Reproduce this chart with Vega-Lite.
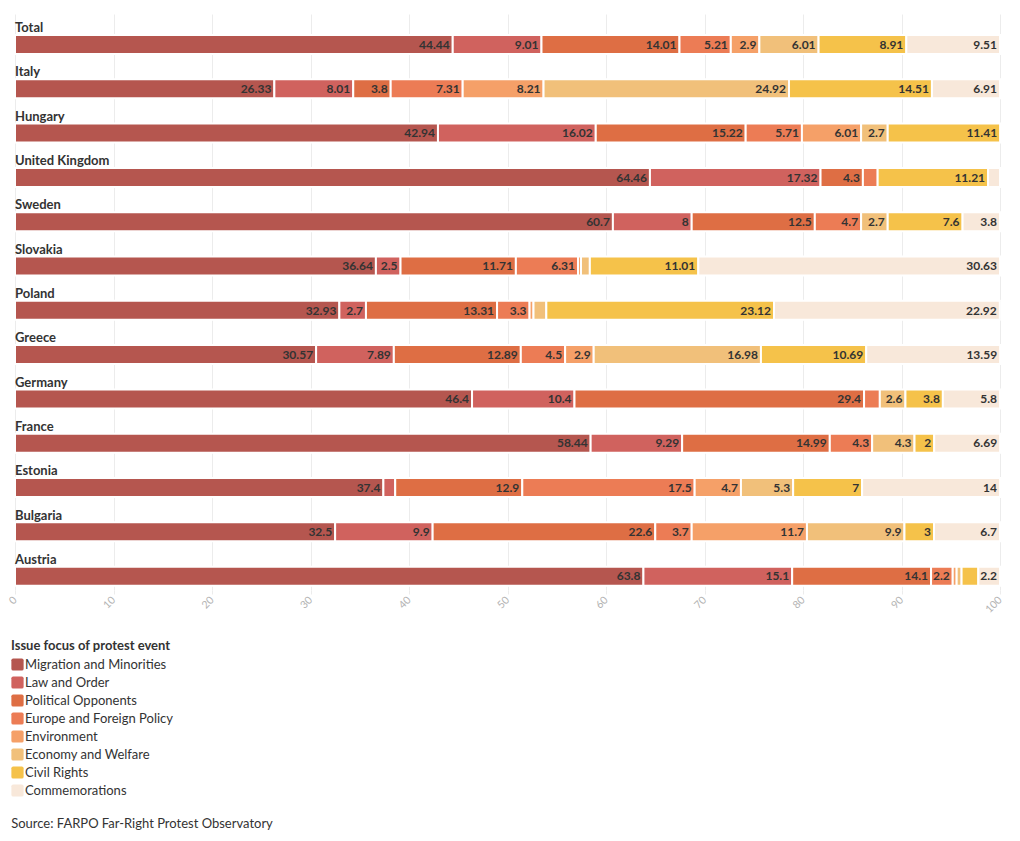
{
  "$schema": "https://vega.github.io/schema/vega-lite/v6.json",
  "width": 985,
  "height": 576,
  "autosize": {"type": "none"},
  "padding": {"left": 15, "top": 14, "right": 20, "bottom": 251},
  "background": "white",
  "config": {"font": "Lato", "view": {"stroke": null}},
  "title": {"text": "Source: FARPO Far-Right Protest Observatory", "orient": "bottom", "anchor": "start", "fontSize": 13, "fontWeight": "normal", "color": "#333", "offset": 20, "dx": 4},
  "datasets": {
    "cats": [
      {"issue": "Migration and Minorities", "rank": 1},
      {"issue": "Law and Order", "rank": 2},
      {"issue": "Political Opponents", "rank": 3},
      {"issue": "Europe and Foreign Policy", "rank": 4},
      {"issue": "Environment", "rank": 5},
      {"issue": "Economy and Welfare", "rank": 6},
      {"issue": "Civil Rights", "rank": 7},
      {"issue": "Commemorations", "rank": 8}
    ]
  },
  "data": {"values": [
    {"country": "Total", "issue": "Migration and Minorities", "value": 44.44},
    {"country": "Total", "issue": "Law and Order", "value": 9.01},
    {"country": "Total", "issue": "Political Opponents", "value": 14.01},
    {"country": "Total", "issue": "Europe and Foreign Policy", "value": 5.21},
    {"country": "Total", "issue": "Environment", "value": 2.9},
    {"country": "Total", "issue": "Economy and Welfare", "value": 6.01},
    {"country": "Total", "issue": "Civil Rights", "value": 8.91},
    {"country": "Total", "issue": "Commemorations", "value": 9.51},
    {"country": "Italy", "issue": "Migration and Minorities", "value": 26.33},
    {"country": "Italy", "issue": "Law and Order", "value": 8.01},
    {"country": "Italy", "issue": "Political Opponents", "value": 3.8},
    {"country": "Italy", "issue": "Europe and Foreign Policy", "value": 7.31},
    {"country": "Italy", "issue": "Environment", "value": 8.21},
    {"country": "Italy", "issue": "Economy and Welfare", "value": 24.92},
    {"country": "Italy", "issue": "Civil Rights", "value": 14.51},
    {"country": "Italy", "issue": "Commemorations", "value": 6.91},
    {"country": "Hungary", "issue": "Migration and Minorities", "value": 42.94},
    {"country": "Hungary", "issue": "Law and Order", "value": 16.02},
    {"country": "Hungary", "issue": "Political Opponents", "value": 15.22},
    {"country": "Hungary", "issue": "Europe and Foreign Policy", "value": 5.71},
    {"country": "Hungary", "issue": "Environment", "value": 6.01},
    {"country": "Hungary", "issue": "Economy and Welfare", "value": 2.7},
    {"country": "Hungary", "issue": "Civil Rights", "value": 11.41},
    {"country": "United Kingdom", "issue": "Migration and Minorities", "value": 64.46},
    {"country": "United Kingdom", "issue": "Law and Order", "value": 17.32},
    {"country": "United Kingdom", "issue": "Political Opponents", "value": 4.3},
    {"country": "United Kingdom", "issue": "Europe and Foreign Policy", "value": 1.5},
    {"country": "United Kingdom", "issue": "Civil Rights", "value": 11.21},
    {"country": "United Kingdom", "issue": "Commemorations", "value": 1.21},
    {"country": "Sweden", "issue": "Migration and Minorities", "value": 60.7},
    {"country": "Sweden", "issue": "Law and Order", "value": 8},
    {"country": "Sweden", "issue": "Political Opponents", "value": 12.5},
    {"country": "Sweden", "issue": "Europe and Foreign Policy", "value": 4.7},
    {"country": "Sweden", "issue": "Economy and Welfare", "value": 2.7},
    {"country": "Sweden", "issue": "Civil Rights", "value": 7.6},
    {"country": "Sweden", "issue": "Commemorations", "value": 3.8},
    {"country": "Slovakia", "issue": "Migration and Minorities", "value": 36.64},
    {"country": "Slovakia", "issue": "Law and Order", "value": 2.5},
    {"country": "Slovakia", "issue": "Political Opponents", "value": 11.71},
    {"country": "Slovakia", "issue": "Europe and Foreign Policy", "value": 6.31},
    {"country": "Slovakia", "issue": "Environment", "value": 0.3},
    {"country": "Slovakia", "issue": "Economy and Welfare", "value": 0.9},
    {"country": "Slovakia", "issue": "Civil Rights", "value": 11.01},
    {"country": "Slovakia", "issue": "Commemorations", "value": 30.63},
    {"country": "Poland", "issue": "Migration and Minorities", "value": 32.93},
    {"country": "Poland", "issue": "Law and Order", "value": 2.7},
    {"country": "Poland", "issue": "Political Opponents", "value": 13.31},
    {"country": "Poland", "issue": "Europe and Foreign Policy", "value": 3.3},
    {"country": "Poland", "issue": "Environment", "value": 0.4},
    {"country": "Poland", "issue": "Economy and Welfare", "value": 1.3},
    {"country": "Poland", "issue": "Civil Rights", "value": 23.12},
    {"country": "Poland", "issue": "Commemorations", "value": 22.92},
    {"country": "Greece", "issue": "Migration and Minorities", "value": 30.57},
    {"country": "Greece", "issue": "Law and Order", "value": 7.89},
    {"country": "Greece", "issue": "Political Opponents", "value": 12.89},
    {"country": "Greece", "issue": "Europe and Foreign Policy", "value": 4.5},
    {"country": "Greece", "issue": "Environment", "value": 2.9},
    {"country": "Greece", "issue": "Economy and Welfare", "value": 16.98},
    {"country": "Greece", "issue": "Civil Rights", "value": 10.69},
    {"country": "Greece", "issue": "Commemorations", "value": 13.59},
    {"country": "Germany", "issue": "Migration and Minorities", "value": 46.4},
    {"country": "Germany", "issue": "Law and Order", "value": 10.4},
    {"country": "Germany", "issue": "Political Opponents", "value": 29.4},
    {"country": "Germany", "issue": "Europe and Foreign Policy", "value": 1.6},
    {"country": "Germany", "issue": "Economy and Welfare", "value": 2.6},
    {"country": "Germany", "issue": "Civil Rights", "value": 3.8},
    {"country": "Germany", "issue": "Commemorations", "value": 5.8},
    {"country": "France", "issue": "Migration and Minorities", "value": 58.44},
    {"country": "France", "issue": "Law and Order", "value": 9.29},
    {"country": "France", "issue": "Political Opponents", "value": 14.99},
    {"country": "France", "issue": "Europe and Foreign Policy", "value": 4.3},
    {"country": "France", "issue": "Economy and Welfare", "value": 4.3},
    {"country": "France", "issue": "Civil Rights", "value": 2},
    {"country": "France", "issue": "Commemorations", "value": 6.69},
    {"country": "Estonia", "issue": "Migration and Minorities", "value": 37.4},
    {"country": "Estonia", "issue": "Law and Order", "value": 1.2},
    {"country": "Estonia", "issue": "Political Opponents", "value": 12.9},
    {"country": "Estonia", "issue": "Europe and Foreign Policy", "value": 17.5},
    {"country": "Estonia", "issue": "Environment", "value": 4.7},
    {"country": "Estonia", "issue": "Economy and Welfare", "value": 5.3},
    {"country": "Estonia", "issue": "Civil Rights", "value": 7},
    {"country": "Estonia", "issue": "Commemorations", "value": 14},
    {"country": "Bulgaria", "issue": "Migration and Minorities", "value": 32.5},
    {"country": "Bulgaria", "issue": "Law and Order", "value": 9.9},
    {"country": "Bulgaria", "issue": "Political Opponents", "value": 22.6},
    {"country": "Bulgaria", "issue": "Europe and Foreign Policy", "value": 3.7},
    {"country": "Bulgaria", "issue": "Environment", "value": 11.7},
    {"country": "Bulgaria", "issue": "Economy and Welfare", "value": 9.9},
    {"country": "Bulgaria", "issue": "Civil Rights", "value": 3},
    {"country": "Bulgaria", "issue": "Commemorations", "value": 6.7},
    {"country": "Austria", "issue": "Migration and Minorities", "value": 63.8},
    {"country": "Austria", "issue": "Law and Order", "value": 15.1},
    {"country": "Austria", "issue": "Political Opponents", "value": 14.1},
    {"country": "Austria", "issue": "Europe and Foreign Policy", "value": 2.2},
    {"country": "Austria", "issue": "Environment", "value": 0.4},
    {"country": "Austria", "issue": "Economy and Welfare", "value": 0.5},
    {"country": "Austria", "issue": "Civil Rights", "value": 1.7},
    {"country": "Austria", "issue": "Commemorations", "value": 2.2}
  ]},
  "transform": [
    {"lookup": "issue", "from": {"data": {"name": "cats"}, "key": "issue", "fields": ["rank"]}},
    {"stack": "value", "groupby": ["country"], "sort": [{"field": "rank", "order": "ascending"}], "as": ["v0", "v1"]}
  ],
  "encoding": {
    "y": {"field": "country", "type": "nominal", "axis": null,
      "sort": ["Total", "Italy", "Hungary", "United Kingdom", "Sweden", "Slovakia", "Poland", "Greece", "Germany", "France", "Estonia", "Bulgaria", "Austria"],
      "scale": {"paddingInner": 0, "paddingOuter": 0}}
  },
  "layer": [
    {
      "mark": {"type": "bar", "size": 19, "yOffset": 8.3, "stroke": "white", "strokeWidth": 2},
      "encoding": {
        "x": {"field": "v0", "type": "quantitative", "scale": {"domain": [0, 100], "nice": false},
          "axis": {"title": null, "values": [0, 10, 20, 30, 40, 50, 60, 70, 80, 90, 100], "domain": false,
            "grid": true, "gridColor": "#ececec", "gridWidth": 1, "ticks": true, "tickColor": "#ececec", "tickSize": 4,
            "labelAngle": -45, "labelAlign": "right", "labelBaseline": "middle", "labelColor": "#b3b3b3", "labelFontSize": 10.5, "labelPadding": 4}},
        "x2": {"field": "v1"},
        "color": {"field": "issue", "type": "nominal",
          "scale": {
            "domain": ["Migration and Minorities", "Law and Order", "Political Opponents", "Europe and Foreign Policy", "Environment", "Economy and Welfare", "Civil Rights", "Commemorations"],
            "range": ["#b5564f", "#d0625e", "#de6e44", "#ec7c55", "#f5a068", "#f1c07a", "#f5c24a", "#f8e8da"]},
          "legend": {"title": "Issue focus of protest event", "orient": "none", "legendX": -4, "legendY": 626,
            "titleFontSize": 13, "titleFontWeight": "bold", "titleColor": "#333", "titlePadding": 5,
            "labelFontSize": 13, "labelColor": "#333", "rowPadding": 4, "labelOffset": 1,
            "symbolType": "M-1,-0.7Q-1,-1,-0.7,-1L0.7,-1Q1,-1,1,-0.7L1,0.7Q1,1,0.7,1L-0.7,1Q-1,1,-1,0.7Z",
            "symbolSize": 150, "symbolStrokeWidth": 0, "symbolOpacity": 1}}
      }
    },
    {
      "transform": [{"filter": "datum.value >= 2"}],
      "mark": {"type": "text", "align": "right", "baseline": "middle", "dx": -3, "dy": 8.5, "fontWeight": "bold", "fontSize": 12, "color": "#333"},
      "encoding": {
        "x": {"field": "v1", "type": "quantitative"},
        "text": {"field": "value", "type": "quantitative"}
      }
    },
    {
      "transform": [{"filter": "datum.rank == 1"}],
      "mark": {"type": "text", "align": "left", "baseline": "middle", "dy": -8, "fontWeight": "bold", "fontSize": 13, "color": "#333"},
      "encoding": {
        "x": {"datum": 0},
        "text": {"field": "country"}
      }
    }
  ]
}
